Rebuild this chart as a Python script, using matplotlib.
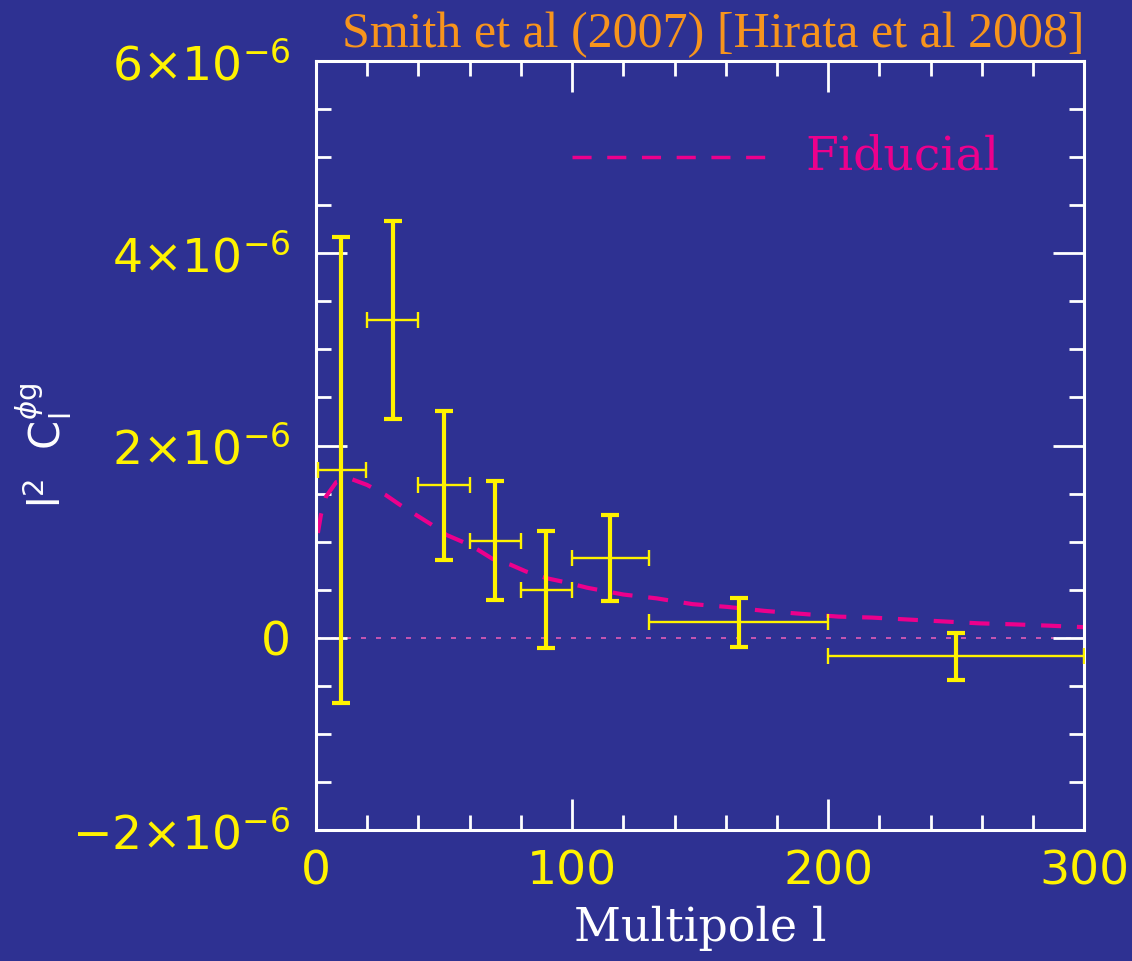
import numpy as np
import matplotlib
matplotlib.use('Agg')
import matplotlib.pyplot as plt
from matplotlib.ticker import MultipleLocator, FuncFormatter

# band powers, in units of 1e-6
ell = [10, 30, 50, 70, 90, 115, 165, 250]
ell_lo = [1, 20, 40, 60, 80, 100, 130, 200]
ell_hi = [19.5, 40, 60, 80, 100, 130, 200, 300]
cl = [1.75, 3.31, 1.59, 1.01, 0.50, 0.83, 0.16, -0.19]
cl_top = [4.17, 4.34, 2.36, 1.63, 1.11, 1.28, 0.41, 0.05]
cl_bot = [-0.68, 2.28, 0.81, 0.39, -0.11, 0.38, -0.10, -0.44]

# fiducial model curve, in units of 1e-6
fid_ell = [0.8, 2, 4, 8, 14, 20, 27, 33, 39, 45, 51, 58, 63, 69, 76, 82, 90, 97,
           106, 120, 133, 147, 161, 175, 189, 204, 217, 231, 245, 259, 272, 287, 300]
fid_cl = [1.09, 1.28, 1.47, 1.62, 1.65, 1.59, 1.49, 1.38, 1.28, 1.18, 1.07, 0.99,
          0.92, 0.82, 0.76, 0.69, 0.62, 0.58, 0.52, 0.45, 0.41, 0.35, 0.32, 0.28,
          0.25, 0.22, 0.21, 0.19, 0.17, 0.15, 0.14, 0.125, 0.11]

unit = 1e-6
bg = '#2e3192'
yellow = '#fff200'
magenta = '#ec008c'
orange = '#f7941d'

ell = np.array(ell, float)
cl = np.array(cl) * unit
yerr = [cl - np.array(cl_bot) * unit, np.array(cl_top) * unit - cl]
xerr = [ell - np.array(ell_lo), np.array(ell_hi) - ell]

fig = plt.figure(figsize=(11.32, 9.61), dpi=100, facecolor=bg)
ax = fig.add_axes([0.279, 0.1363, 0.679, 0.8002], facecolor=bg)

ax.axhline(0, color='#e05cb8', lw=1.2, ls=(0, (3, 6)), zorder=1)
ax.plot(fid_ell, np.array(fid_cl) * unit, color=magenta, lw=3,
        ls=(0, (4.8, 3.8)), zorder=2)

ax.errorbar(ell, cl, xerr=xerr, fmt='none', ecolor=yellow, elinewidth=1.7,
            capsize=6, capthick=1.7, zorder=3)
ax.errorbar(ell, cl, yerr=yerr, fmt='none', ecolor=yellow, elinewidth=3,
            capsize=6.5, capthick=3, zorder=4)

# legend drawn by hand
ax.plot([0.333, 0.591], [0.875, 0.875], transform=ax.transAxes, color=magenta,
        lw=2.5, ls=(0, (5.5, 4.5)))
ax.text(0.637, 0.875, 'Fiducial', transform=ax.transAxes, color=magenta,
        fontsize=34, family='DejaVu Serif', va='center', ha='left')

ax.set_xlim(0, 300)
ax.set_ylim(-2e-6, 6e-6)
ax.xaxis.set_major_locator(MultipleLocator(100))
ax.xaxis.set_minor_locator(MultipleLocator(20))
ax.yaxis.set_major_locator(MultipleLocator(2e-6))
ax.yaxis.set_minor_locator(MultipleLocator(0.5e-6))


def ylab(v, pos):
    n = int(round(v / unit))
    if n == 0:
        return '0'
    return r'$%d{\times}10^{-6}$' % n


ax.yaxis.set_major_formatter(FuncFormatter(ylab))
ax.tick_params(which='both', direction='in', top=True, right=True,
               color='white', width=2, labelcolor=yellow, labelsize=34)
ax.tick_params(which='major', length=22)
ax.tick_params(which='minor', length=11)
ax.tick_params(axis='x', pad=14)
ax.tick_params(axis='y', pad=18)
for s in ax.spines.values():
    s.set_color('white')
    s.set_linewidth(2.2)

ax.set_xlabel('Multipole l', color='white', fontsize=33, family='DejaVu Serif',
              labelpad=8)
fig.text(0.038, 0.537, r'$\mathrm{l}^2\ \ \mathrm{C}_\mathrm{l}^{\phi\mathrm{g}}$',
         rotation=90, color='white', fontsize=30, ha='center', va='center')
fig.text(0.958, 0.951, 'Smith et al (2007) [Hirata et al 2008]', color=orange,
         fontsize=36, family='Liberation Serif', ha='right', va='baseline')

fig.savefig('out.png', dpi=100, facecolor=bg)
